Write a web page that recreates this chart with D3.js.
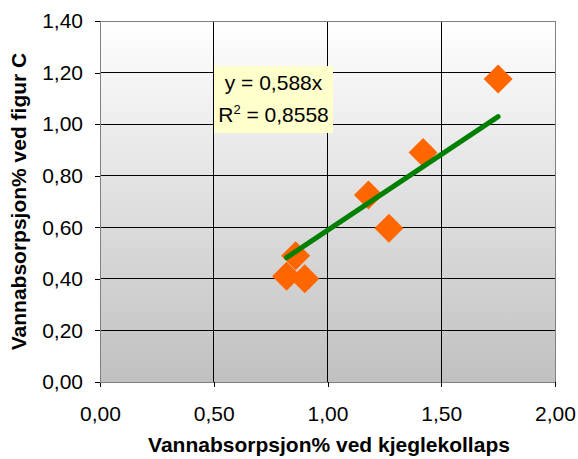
<!DOCTYPE html>
<html>
<head>
<meta charset="utf-8">
<script src="https://cdn.jsdelivr.net/npm/d3@7.9.0/dist/d3.min.js"></script>
<style>
  body { margin: 0; background: #fff; }
  text { font-family: "Liberation Sans", Arial, sans-serif; }
</style>
</head>
<body>
<svg id="vis"></svg>
<script>
const width = 578;
const height = 459;

// data
const xValues = [0.82, 0.86, 0.90, 1.18, 1.27, 1.42, 1.75];
const yValues = [0.41, 0.49, 0.40, 0.725, 0.596, 0.89, 1.175];
const slope = 0.588;
const xTicks = [0, 0.5, 1.0, 1.5, 2.0];
const yTicks = [0, 0.2, 0.4, 0.6, 0.8, 1.0, 1.2, 1.4];
const eqLines = ["y = 0,588x", "R2 = 0,8558"];

const margin = { top: 21, right: 23, bottom: 77, left: 100 };

const svg = d3.select("#vis")
    .attr("width", width)
    .attr("height", height);

const x = d3.scaleLinear().domain([0, 2]).range([margin.left, width - margin.right]);
const y = d3.scaleLinear().domain([0, 1.4]).range([height - margin.bottom, margin.top]);

const fmt = d => d3.format(".2f")(d).replace(".", ",");

// background gradient
const grad = svg.append("defs").append("linearGradient")
    .attr("id", "bg")
    .attr("x1", 0).attr("y1", 0).attr("x2", 0).attr("y2", 1);
grad.append("stop").attr("offset", "0%").attr("stop-color", "#ffffff");
grad.append("stop").attr("offset", "100%").attr("stop-color", "#c0c0c0");

svg.append("rect")
    .attr("x", x(0))
    .attr("y", y(1.4))
    .attr("width", x(2) - x(0))
    .attr("height", y(0) - y(1.4))
    .attr("fill", "url(#bg)");

// grid
svg.append("g").selectAll("line")
    .data(yTicks)
    .join("line")
    .attr("x1", x(0)).attr("x2", x(2))
    .attr("y1", d => y(d)).attr("y2", d => y(d))
    .attr("stroke", "#000")
    .attr("shape-rendering", "crispEdges");

svg.append("g").selectAll("line")
    .data(xTicks)
    .join("line")
    .attr("y1", y(0)).attr("y2", y(1.4))
    .attr("x1", d => x(d)).attr("x2", d => x(d))
    .attr("stroke", "#000")
    .attr("shape-rendering", "crispEdges");

// plot border
svg.append("rect")
    .attr("x", x(0))
    .attr("y", y(1.4))
    .attr("width", x(2) - x(0))
    .attr("height", y(0) - y(1.4))
    .attr("fill", "none")
    .attr("stroke", "#808080")
    .attr("shape-rendering", "crispEdges");

// axes
const xAxis = svg.append("g")
    .attr("transform", `translate(0,${y(0)})`)
    .call(d3.axisBottom(x).tickValues(xTicks).tickFormat(fmt).tickSize(5).tickPadding(19));
const yAxis = svg.append("g")
    .attr("transform", `translate(${x(0)},0)`)
    .call(d3.axisLeft(y).tickValues(yTicks).tickFormat(fmt).tickSize(5).tickPadding(12));

[xAxis, yAxis].forEach(a => {
    a.select(".domain").attr("stroke", "#808080").attr("shape-rendering", "crispEdges");
    a.selectAll(".tick line").attr("stroke", "#000").attr("shape-rendering", "crispEdges");
    a.selectAll("text")
        .attr("fill", "#000")
        .style("font-size", "21px")
        .style("font-family", '"Liberation Sans", Arial, sans-serif');
});

// points
const diamond = d3.symbol().type(d3.symbolSquare).size(420);
svg.append("g").selectAll("path")
    .data(xValues.map((v, i) => [v, yValues[i]]))
    .join("path")
    .attr("d", diamond)
    .attr("transform", d => `translate(${x(d[0])},${y(d[1])}) rotate(45)`)
    .attr("fill", "#ff6600");

// trendline, drawn over the points like in the picture
const xMin = d3.min(xValues), xMax = d3.max(xValues);
svg.append("line")
    .attr("x1", x(xMin)).attr("y1", y(slope * xMin))
    .attr("x2", x(xMax)).attr("y2", y(slope * xMax))
    .attr("stroke", "#008000")
    .attr("stroke-width", 5)
    .attr("stroke-linecap", "round");

// equation label
const lab = svg.append("g");
lab.append("rect")
    .attr("x", 214).attr("y", 66)
    .attr("width", 119).attr("height", 67)
    .attr("fill", "#ffffcc");
lab.append("text")
    .attr("x", 273.5).attr("y", 90)
    .attr("text-anchor", "middle")
    .style("font-size", "21px")
    .text(eqLines[0]);
const t2 = lab.append("text")
    .attr("x", 273.5).attr("y", 122)
    .attr("text-anchor", "middle")
    .style("font-size", "21px");
t2.append("tspan").text("R");
t2.append("tspan").attr("dy", -8).style("font-size", "13px").text("2");
t2.append("tspan").attr("dy", 8).text(" = 0,8558");

// axis titles
svg.append("text")
    .attr("x", 329)
    .attr("y", 452)
    .attr("text-anchor", "middle")
    .style("font-size", "21px")
    .style("font-weight", "bold")
    .text("Vannabsorpsjon% ved kjeglekollaps");

svg.append("text")
    .attr("transform", `translate(26,${(y(0) + y(1.4)) / 2}) rotate(-90)`)
    .attr("text-anchor", "middle")
    .style("font-size", "21px")
    .style("font-weight", "bold")
    .text("Vannabsorpsjon% ved figur C");
</script>
</body>
</html>
